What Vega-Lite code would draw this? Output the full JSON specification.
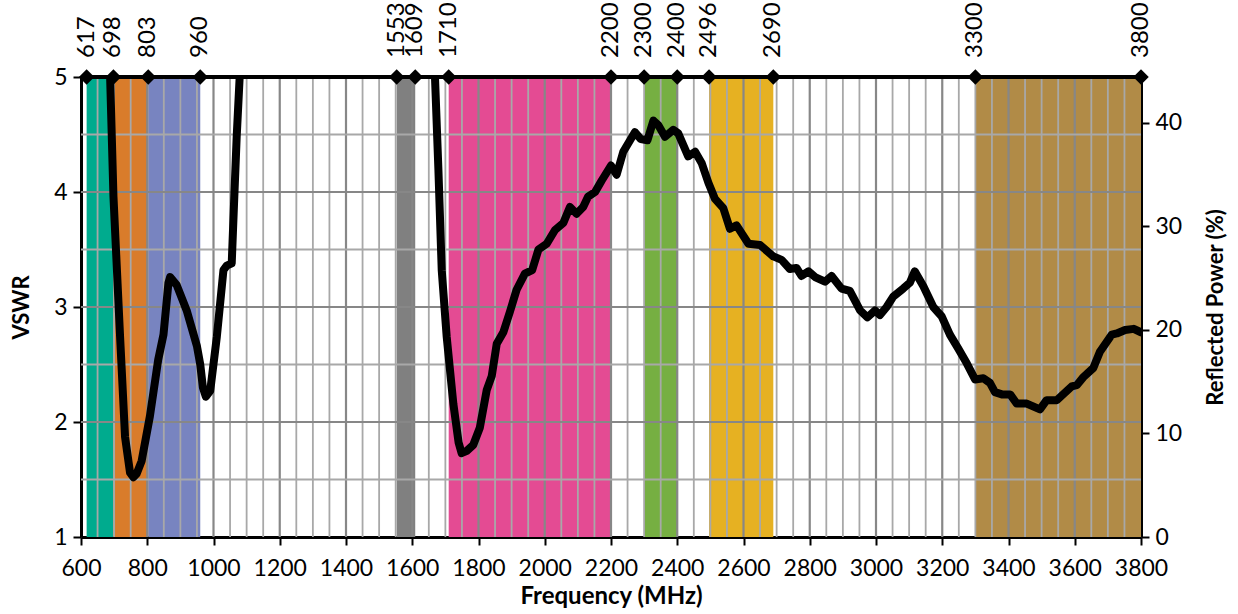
{
  "$schema": "https://vega.github.io/schema/vega-lite/v6.json",
  "width": 1060,
  "height": 460,
  "autosize": {"type": "none"},
  "padding": {"left": 81, "top": 77, "right": 97, "bottom": 77},
  "config": {
    "view": {"stroke": null},
    "font": "Lato",
    "axis": {
      "labelFont": "Lato", "labelFontSize": 23, "labelColor": "#000000",
      "titleFont": "Lato", "titleFontWeight": "bold", "titleColor": "#000000",
      "domainColor": "#000000", "domainWidth": 3,
      "tickColor": "#000000", "tickWidth": 2, "tickSize": 8,
      "grid": false, "labelFlush": false, "labelOverlap": false
    }
  },
  "datasets": {
    "bands": [
      {"start": 617, "end": 698, "band": "617-698"},
      {"start": 698, "end": 803, "band": "698-803"},
      {"start": 803, "end": 960, "band": "803-960"},
      {"start": 1553, "end": 1609, "band": "1553-1609"},
      {"start": 1710, "end": 2200, "band": "1710-2200"},
      {"start": 2300, "end": 2400, "band": "2300-2400"},
      {"start": 2496, "end": 2690, "band": "2496-2690"},
      {"start": 3300, "end": 3800, "band": "3300-3800"}
    ],
    "edges": [
      {"f": 617}, {"f": 698}, {"f": 803}, {"f": 960}, {"f": 1553}, {"f": 1609}, {"f": 1710},
      {"f": 2200}, {"f": 2300}, {"f": 2400}, {"f": 2496}, {"f": 2690}, {"f": 3300}, {"f": 3800}
    ],
    "gridX": [
      {"g": 650}, {"g": 700}, {"g": 750}, {"g": 800}, {"g": 850}, {"g": 900}, {"g": 950}, {"g": 1000},
      {"g": 1050}, {"g": 1100}, {"g": 1150}, {"g": 1200}, {"g": 1250}, {"g": 1300}, {"g": 1350}, {"g": 1400},
      {"g": 1450}, {"g": 1500}, {"g": 1550}, {"g": 1600}, {"g": 1650}, {"g": 1700}, {"g": 1750}, {"g": 1800},
      {"g": 1850}, {"g": 1900}, {"g": 1950}, {"g": 2000}, {"g": 2050}, {"g": 2100}, {"g": 2150}, {"g": 2200},
      {"g": 2250}, {"g": 2300}, {"g": 2350}, {"g": 2400}, {"g": 2450}, {"g": 2500}, {"g": 2550}, {"g": 2600},
      {"g": 2650}, {"g": 2700}, {"g": 2750}, {"g": 2800}, {"g": 2850}, {"g": 2900}, {"g": 2950}, {"g": 3000},
      {"g": 3050}, {"g": 3100}, {"g": 3150}, {"g": 3200}, {"g": 3250}, {"g": 3300}, {"g": 3350}, {"g": 3400},
      {"g": 3450}, {"g": 3500}, {"g": 3550}, {"g": 3600}, {"g": 3650}, {"g": 3700}, {"g": 3750}
    ],
    "gridY": [
      {"h": 1.5}, {"h": 2}, {"h": 2.5}, {"h": 3}, {"h": 3.5}, {"h": 4}, {"h": 4.5}
    ],
    "curve": [
      {"f": 685, "vswr": 5.3},
      {"f": 698, "vswr": 3.96},
      {"f": 718, "vswr": 2.74},
      {"f": 733, "vswr": 1.87},
      {"f": 748, "vswr": 1.56},
      {"f": 758, "vswr": 1.52},
      {"f": 768, "vswr": 1.55},
      {"f": 783, "vswr": 1.66},
      {"f": 808, "vswr": 2.05},
      {"f": 833, "vswr": 2.54},
      {"f": 849, "vswr": 2.76},
      {"f": 864, "vswr": 3.21},
      {"f": 869, "vswr": 3.26},
      {"f": 889, "vswr": 3.19},
      {"f": 919, "vswr": 2.97},
      {"f": 950, "vswr": 2.66},
      {"f": 960, "vswr": 2.5},
      {"f": 968, "vswr": 2.3},
      {"f": 977, "vswr": 2.22},
      {"f": 990, "vswr": 2.27},
      {"f": 1010, "vswr": 2.74},
      {"f": 1030, "vswr": 3.32},
      {"f": 1040, "vswr": 3.36},
      {"f": 1055, "vswr": 3.38},
      {"f": 1062, "vswr": 3.9},
      {"f": 1070, "vswr": 4.48},
      {"f": 1079, "vswr": 5.0},
      {"f": 1082, "vswr": 5.3},
      {"f": 1665, "vswr": 5.3},
      {"f": 1669, "vswr": 4.97},
      {"f": 1679, "vswr": 4.19},
      {"f": 1689, "vswr": 3.32},
      {"f": 1704, "vswr": 2.74},
      {"f": 1724, "vswr": 2.16},
      {"f": 1740, "vswr": 1.82},
      {"f": 1749, "vswr": 1.73},
      {"f": 1765, "vswr": 1.75},
      {"f": 1784, "vswr": 1.8},
      {"f": 1804, "vswr": 1.95},
      {"f": 1825, "vswr": 2.28},
      {"f": 1840, "vswr": 2.4},
      {"f": 1855, "vswr": 2.68},
      {"f": 1875, "vswr": 2.78},
      {"f": 1895, "vswr": 2.96},
      {"f": 1915, "vswr": 3.15},
      {"f": 1940, "vswr": 3.29},
      {"f": 1962, "vswr": 3.32},
      {"f": 1981, "vswr": 3.5},
      {"f": 2006, "vswr": 3.55},
      {"f": 2031, "vswr": 3.67},
      {"f": 2056, "vswr": 3.73},
      {"f": 2076, "vswr": 3.87},
      {"f": 2096, "vswr": 3.81},
      {"f": 2116, "vswr": 3.87},
      {"f": 2131, "vswr": 3.96},
      {"f": 2152, "vswr": 4.0},
      {"f": 2172, "vswr": 4.1},
      {"f": 2200, "vswr": 4.23},
      {"f": 2217, "vswr": 4.15},
      {"f": 2237, "vswr": 4.35},
      {"f": 2272, "vswr": 4.52},
      {"f": 2290, "vswr": 4.46},
      {"f": 2310, "vswr": 4.45},
      {"f": 2328, "vswr": 4.62},
      {"f": 2343, "vswr": 4.58},
      {"f": 2363, "vswr": 4.48},
      {"f": 2388, "vswr": 4.54},
      {"f": 2403, "vswr": 4.51},
      {"f": 2433, "vswr": 4.31},
      {"f": 2454, "vswr": 4.35},
      {"f": 2474, "vswr": 4.25},
      {"f": 2494, "vswr": 4.08},
      {"f": 2514, "vswr": 3.94},
      {"f": 2539, "vswr": 3.86},
      {"f": 2559, "vswr": 3.68},
      {"f": 2579, "vswr": 3.71},
      {"f": 2615, "vswr": 3.55},
      {"f": 2650, "vswr": 3.54},
      {"f": 2690, "vswr": 3.44},
      {"f": 2715, "vswr": 3.41},
      {"f": 2740, "vswr": 3.33},
      {"f": 2760, "vswr": 3.34},
      {"f": 2775, "vswr": 3.27},
      {"f": 2796, "vswr": 3.31},
      {"f": 2816, "vswr": 3.26},
      {"f": 2846, "vswr": 3.22},
      {"f": 2866, "vswr": 3.27},
      {"f": 2896, "vswr": 3.16},
      {"f": 2921, "vswr": 3.14},
      {"f": 2952, "vswr": 2.97},
      {"f": 2974, "vswr": 2.91},
      {"f": 2997, "vswr": 2.97},
      {"f": 3012, "vswr": 2.93},
      {"f": 3032, "vswr": 3.0},
      {"f": 3052, "vswr": 3.09},
      {"f": 3082, "vswr": 3.16},
      {"f": 3102, "vswr": 3.21},
      {"f": 3117, "vswr": 3.31},
      {"f": 3143, "vswr": 3.18},
      {"f": 3173, "vswr": 3.0},
      {"f": 3198, "vswr": 2.92},
      {"f": 3223, "vswr": 2.76},
      {"f": 3248, "vswr": 2.64},
      {"f": 3274, "vswr": 2.51},
      {"f": 3299, "vswr": 2.37},
      {"f": 3324, "vswr": 2.38},
      {"f": 3344, "vswr": 2.34},
      {"f": 3359, "vswr": 2.26},
      {"f": 3380, "vswr": 2.24},
      {"f": 3405, "vswr": 2.24},
      {"f": 3425, "vswr": 2.16},
      {"f": 3455, "vswr": 2.16},
      {"f": 3495, "vswr": 2.11},
      {"f": 3515, "vswr": 2.19},
      {"f": 3546, "vswr": 2.19},
      {"f": 3591, "vswr": 2.31},
      {"f": 3606, "vswr": 2.32},
      {"f": 3626, "vswr": 2.39},
      {"f": 3656, "vswr": 2.47},
      {"f": 3676, "vswr": 2.61},
      {"f": 3712, "vswr": 2.76},
      {"f": 3727, "vswr": 2.77},
      {"f": 3752, "vswr": 2.8},
      {"f": 3778, "vswr": 2.81},
      {"f": 3800, "vswr": 2.78}
    ]
  },
  "layer": [
    {
      "data": {"name": "bands"},
      "mark": {"type": "rect"},
      "encoding": {
        "x": {
          "field": "start", "type": "quantitative",
          "scale": {"domain": [600, 3800], "nice": false, "zero": false},
          "axis": {
            "orient": "bottom", "title": "Frequency (MHz)", "titleFontSize": 24, "titlePadding": 4,
            "values": [600, 800, 1000, 1200, 1400, 1600, 1800, 2000, 2200, 2400, 2600, 2800, 3000, 3200, 3400, 3600, 3800],
            "format": "d", "labelPadding": 12
          }
        },
        "x2": {"field": "end"},
        "color": {
          "field": "band", "type": "nominal", "legend": null,
          "scale": {
            "domain": ["617-698", "698-803", "803-960", "1553-1609", "1710-2200", "2300-2400", "2496-2690", "3300-3800"],
            "range": ["#00AB8E", "#D97C2B", "#7884C0", "#808080", "#E44B93", "#76AF42", "#E6B122", "#B18B47"]
          }
        }
      }
    },
    {
      "data": {"name": "gridX"},
      "mark": {"type": "rule"},
      "encoding": {
        "x": {"field": "g", "type": "quantitative", "scale": {"domain": [600, 3800], "nice": false, "zero": false}},
        "color": {"condition": {"test": "datum.g % 200 === 0", "value": "#878787"}, "value": "#A8A8A8"},
        "strokeWidth": {"condition": {"test": "datum.g % 200 === 0", "value": 2.2}, "value": 1.8}
      }
    },
    {
      "data": {"name": "gridY"},
      "mark": {"type": "rule"},
      "encoding": {
        "y": {"field": "h", "type": "quantitative", "scale": {"domain": [1, 5], "nice": false, "zero": false}, "axis": null},
        "color": {"condition": {"test": "datum.h % 1 === 0", "value": "#878787"}, "value": "#A8A8A8"},
        "strokeWidth": {"condition": {"test": "datum.h % 1 === 0", "value": 2.2}, "value": 1.8}
      }
    },
    {
      "data": {"name": "curve"},
      "mark": {"type": "line", "color": "#000000", "strokeWidth": 8, "clip": true, "strokeJoin": "round", "strokeCap": "round"},
      "encoding": {
        "x": {"field": "f", "type": "quantitative", "scale": {"domain": [600, 3800], "nice": false, "zero": false}},
        "y": {
          "field": "vswr", "type": "quantitative",
          "scale": {"domain": [1, 5], "nice": false, "zero": false},
          "axis": {
            "orient": "left", "title": "VSWR", "titleFontSize": 22, "titlePadding": 20,
            "values": [1, 2, 3, 4, 5], "labelPadding": 6
          }
        }
      }
    },
    {
      "data": {"name": "edges"},
      "mark": {"type": "rule", "color": "#000000", "strokeWidth": 4},
      "encoding": {
        "y": {"datum": 5, "type": "quantitative", "scale": {"domain": [1, 5], "nice": false, "zero": false}, "axis": null}
      }
    },
    {
      "data": {"name": "edges"},
      "mark": {"type": "point", "shape": "diamond", "filled": true, "color": "#000000", "size": 240, "opacity": 1},
      "encoding": {
        "x": {"field": "f", "type": "quantitative", "scale": {"domain": [600, 3800], "nice": false, "zero": false}},
        "y": {"datum": 5, "type": "quantitative", "scale": {"domain": [1, 5], "nice": false, "zero": false}, "axis": null}
      }
    },
    {
      "data": {"name": "edges"},
      "mark": {"type": "text", "angle": 270, "align": "left", "baseline": "middle", "dx": 19, "fontSize": 24, "font": "Lato", "color": "#000000"},
      "encoding": {
        "x": {"field": "f", "type": "quantitative", "scale": {"domain": [600, 3800], "nice": false, "zero": false}},
        "y": {"datum": 5, "type": "quantitative", "scale": {"domain": [1, 5], "nice": false, "zero": false}, "axis": null},
        "text": {"field": "f", "type": "quantitative", "format": "d"}
      }
    },
    {
      "data": {"name": "edges"},
      "mark": {"type": "rule", "opacity": 0},
      "encoding": {
        "y": {
          "datum": 0, "type": "quantitative",
          "scale": {"domain": [0, 44.444], "nice": false, "zero": false},
          "axis": {
            "orient": "right", "title": "Reflected Power (%)", "titleFontSize": 22, "titleAngle": 270,
            "titlePadding": 46, "values": [0, 10, 20, 30, 40], "labelPadding": 6
          }
        }
      }
    }
  ],
  "resolve": {"scale": {"y": "independent"}}
}
